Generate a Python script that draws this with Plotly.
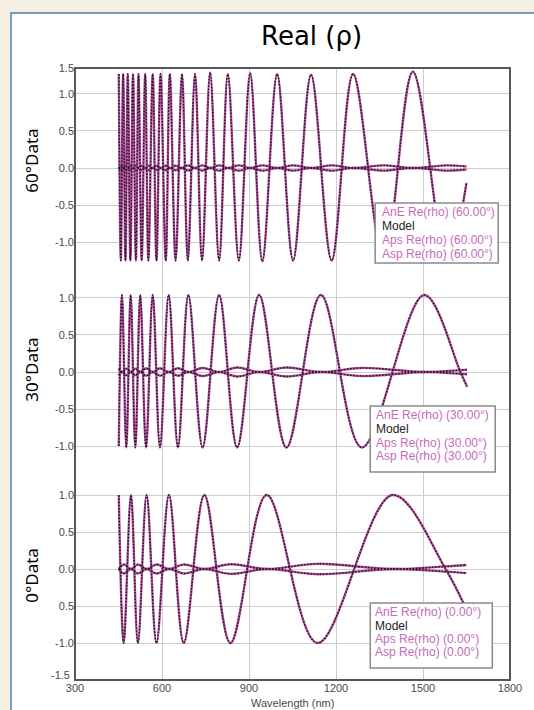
import plotly.graph_objects as go

# ---------------- data: Re(rho) versus wavelength (nm) ----------------
# 60 degrees
wl_60 = [451, 458, 466, 474, 482, 491, 500, 510, 519, 530, 542, 553, 568, 581, 595, 613,
         627, 647, 669, 689, 714, 738, 766, 797, 827, 865, 904, 946, 997, 1052, 1114, 1185,
         1259, 1365, 1465, 1583, 1650]
ane_60 = [1.27, -1.25, 1.27, -1.25, 1.27, -1.25, 1.27, -1.25, 1.27, -1.25, 1.27, -1.25,
          1.27, -1.25, 1.27, -1.25, 1.27, -1.25, 1.27, -1.25, 1.27, -1.25, 1.29, -1.25,
          1.27, -1.25, 1.28, -1.26, 1.27, -1.25, 1.26, -1.25, 1.27, -1.25, 1.30, -1.25, -0.20]
aps_60 = [0.0, 0.03, 0.0, 0.03, 0.0, 0.03, 0.0, 0.03, 0.0, 0.03, 0.0, 0.03,
          0.0, 0.03, 0.0, 0.03, 0.0, 0.03, 0.0, 0.035, 0.0, 0.035, 0.0, 0.035,
          0.0, 0.035, 0.0, 0.035, 0.0, 0.035, 0.0, 0.035, 0.0, 0.035, 0.0, 0.035, 0.02]
asp_60 = [-v for v in aps_60]

# 30 degrees
wl_30 = [451, 462, 477, 492, 508, 525, 545, 568, 593, 623, 655, 691, 740, 797, 859, 935,
         1029, 1148, 1289, 1504, 1629, 1652]
ane_30 = [-1.00, 1.04, -1.02, 1.04, -1.02, 1.04, -1.02, 1.04, -1.02, 1.04, -1.02, 1.04,
          -1.02, 1.04, -1.02, 1.04, -1.02, 1.04, -1.02, 1.04, 0.00, -0.20]
aps_30 = [0.045, 0.0, 0.045, 0.0, 0.045, 0.0, 0.05, 0.0, 0.05, 0.0, 0.05, 0.0,
          0.055, 0.0, 0.06, 0.0, 0.06, 0.0, 0.055, 0.0, 0.025, 0.03]
asp_30 = [-v for v in aps_30]

# 0 degrees
wl_0 = [451, 468, 493, 517, 547, 581, 624, 675, 746, 836, 961, 1136, 1395, 1578, 1650]
ane_0 = [1.00, -1.00, 1.00, -1.00, 1.00, -1.00, 1.00, -1.00, 1.00, -1.00, 1.00, -1.00,
         1.00, 0.00, -0.55]
aps_0 = [0.0, 0.06, 0.0, 0.06, 0.0, 0.06, 0.0, 0.06, 0.0, 0.065, 0.0, 0.07, 0.0, 0.035, 0.055]
asp_0 = [-v for v in aps_0]

x_ticks = [300, 600, 900, 1200, 1500, 1800]
angle_labels = ["60°Data", "30°Data", "0°Data"]
legend_angles = ["60.00°", "30.00°", "0.00°"]

# ---------------- styling ----------------
DATA_COLOR = "#b4519f"
MODEL_COLOR = "#1e141e"
TEXT_PINK = "#c56bbb"
GRID = "#cdcdcd"
TICK_FONT = dict(family="Liberation Sans, Arial, sans-serif", size=11, color="#4a4a4a")

# pixel geometry of the plotting frame
W, H = 534, 710
L, R, T, B = 75, 17, 68, 30
PW, PH = W - L - R, H - T - B


def px_x(x):
    return (x - L) / PW


def px_y(y):
    return (H - B - y) / PH


fig = go.Figure()

panels = [
    ("y3", wl_60, ane_60, aps_60, asp_60),
    ("y2", wl_30, ane_30, aps_30, asp_30),
    ("y", wl_0, ane_0, aps_0, asp_0),
]
x_for_y = {"y3": "x3", "y2": "x2", "y": "x"}

# measured curves (solid) first, model curves (dotted) on top
for yref, wl, ane, aps, asp in panels:
    for series in (aps, asp, ane):
        fig.add_trace(go.Scatter(
            x=wl, y=series, mode="lines", xaxis=x_for_y[yref], yaxis=yref,
            line=dict(color=DATA_COLOR, width=2.4, shape="spline", smoothing=1.0),
            showlegend=False, hoverinfo="skip"))
for yref, wl, ane, aps, asp in panels:
    for series in (aps, asp, ane):
        fig.add_trace(go.Scatter(
            x=wl, y=series, mode="lines", xaxis=x_for_y[yref], yaxis=yref,
            line=dict(color=MODEL_COLOR, width=1.4, dash="1.6px,1.6px",
                      shape="spline", smoothing=1.0),
            showlegend=False, hoverinfo="skip"))

dom_bot = (H - B - 470) / PH
dom_mid = (H - B - 270) / PH

common_x = dict(range=[300, 1800], showgrid=True, gridcolor=GRID, gridwidth=1,
                zeroline=False, showline=False, ticks="", tickfont=TICK_FONT)
common_y = dict(showgrid=True, gridcolor=GRID, gridwidth=1, zeroline=False,
                showline=False, ticks="", tickfont=TICK_FONT)

fig.update_layout(
    width=W, height=H,
    margin=dict(l=L, r=R, t=T, b=B),
    paper_bgcolor="#f4efe3",
    plot_bgcolor="white",
    xaxis=dict(common_x, domain=[0, 1], anchor="y", tickvals=x_ticks,
               ticktext=[str(v) for v in x_ticks]),
    xaxis2=dict(common_x, domain=[0, 1], anchor="y2", matches="x",
                tickvals=x_ticks, showticklabels=False),
    xaxis3=dict(common_x, domain=[0, 1], anchor="y3", matches="x",
                tickvals=x_ticks, showticklabels=False),
    yaxis=dict(common_y, domain=[0, dom_bot], range=[-1.5, 1.338],
               tickvals=[-1.0, -0.5, 0.0, 0.5, 1.0],
               ticktext=["-1.0", "0.5", "0.0", "0.5", "1.0"]),
    yaxis2=dict(common_y, domain=[dom_bot, dom_mid], range=[-1.324, 1.378],
                tickvals=[-1.0, -0.5, 0.0, 0.5, 1.0],
                ticktext=["-1.0", "-0.5", "0.0", "0.5", "1.0"]),
    yaxis3=dict(common_y, domain=[dom_mid, 1], range=[-1.378, 1.351],
                tickvals=[-1.0, -0.5, 0.0, 0.5, 1.0, 1.351],
                ticktext=["-1.0", "-0.5", "0.0", "0.5", "1.0", "1.5"]),
)

shapes = [
    # white card with blue border
    dict(type="rect", xref="paper", yref="paper", layer="below",
         x0=px_x(10), x1=px_x(560), y0=px_y(740), y1=px_y(13),
         fillcolor="white", line=dict(color="#4f7fa6", width=1.5)),
    # plot frame
    dict(type="rect", xref="paper", yref="paper", layer="above",
         x0=0, x1=1, y0=0, y1=1, line=dict(color="#585858", width=2)),
]

# legend boxes: (left, right, top, bottom, text-left, row centres)
legend_boxes = [
    (380, 505, 203, 263, 385, [212, 226, 240, 254]),
    (375, 502, 406, 472, 379, [415, 429, 443, 456]),
    (375, 499, 603, 668, 378, [612, 626, 639, 652]),
]

annotations = [
    dict(text="Real (ρ)", x=px_x(315), y=px_y(36), xref="paper", yref="paper",
         showarrow=False, xanchor="center", yanchor="middle",
         font=dict(family="DejaVu Sans", size=26, color="black")),
    dict(text="Wavelength (nm)", x=0.5, y=px_y(703), xref="paper", yref="paper",
         showarrow=False, xanchor="center", yanchor="middle", font=TICK_FONT),
    # bottom-most y label sits just above the x tick labels
    dict(text="-1.5", x=px_x(72), y=px_y(675), xref="paper", yref="paper",
         showarrow=False, xanchor="right", yanchor="middle", font=TICK_FONT),
]

for label, yc in zip(angle_labels, [161, 370, 575]):
    annotations.append(dict(
        text=label, x=px_x(30), y=px_y(yc), xref="paper", yref="paper",
        showarrow=False, textangle=-90, xanchor="center", yanchor="middle",
        font=dict(family="Noto Sans, Open Sans, sans-serif", size=17, color="black")))

for (x0, x1, y0, y1, tx, rows), ang in zip(legend_boxes, legend_angles):
    shapes.append(dict(type="rect", xref="paper", yref="paper", layer="above",
                       x0=px_x(x0), x1=px_x(x1), y0=px_y(y1), y1=px_y(y0),
                       fillcolor="white", line=dict(color="#8a8a8a", width=1.5)))
    lines = [(f"AnE Re(rho) ({ang})", TEXT_PINK), ("Model", "#222222"),
             (f"Aps Re(rho) ({ang})", TEXT_PINK), (f"Asp Re(rho) ({ang})", TEXT_PINK)]
    for (txt, col), ry in zip(lines, rows):
        annotations.append(dict(
            text=txt, x=px_x(tx), y=px_y(ry), xref="paper", yref="paper",
            showarrow=False, xanchor="left", yanchor="middle",
            font=dict(family="Liberation Sans, Arial, sans-serif", size=12, color=col)))

fig.update_layout(shapes=shapes, annotations=annotations)

fig.write_html("out.html")
